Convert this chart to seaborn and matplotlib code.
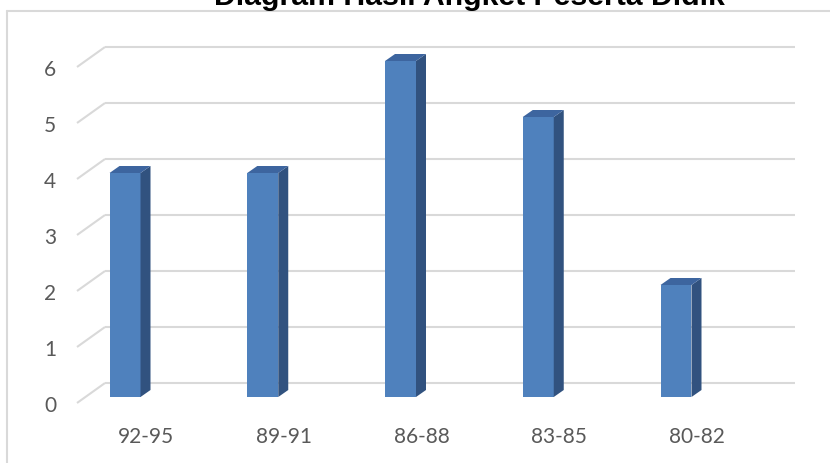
import matplotlib
matplotlib.use("Agg")
import matplotlib.pyplot as plt
import matplotlib.transforms as mtrans
from matplotlib.patches import Polygon
from matplotlib.lines import Line2D
import seaborn as sns

# Survey results: number of students per score range
categories = ["92-95", "89-91", "86-88", "83-85", "80-82"]
counts = [4, 4, 6, 5, 2]
y_ticks = [0, 1, 2, 3, 4, 5, 6]
title = "Diagram Hasil Angket Peserta Didik"

sns.set_theme(style="white")
plt.rcParams["font.family"] = ["Lato", "DejaVu Sans"]

W, H, DPI = 830, 463, 100
fig = plt.figure(figsize=(W / DPI, H / DPI), dpi=DPI)
fig.patch.set_facecolor("white")

# Axes frame in pixels (the plane in which the columns stand)
left_px, right_px = 77, 797
bottom_px, top_px = 397, 33
ax = fig.add_axes([left_px / W, (H - bottom_px) / H,
                   (right_px - left_px) / W, (bottom_px - top_px) / H])
ax.set_facecolor("none")

FRONT = "#4f81bd"
SIDE = "#31527f"
TOP = "#3d659f"
GRID = "#d9d9d9"
TEXT = "#595959"

sns.barplot(x=categories, y=counts, color=FRONT, saturation=1, width=0.225,
            linewidth=0, ax=ax, zorder=3)

ax.set_xlim(-0.3485, 4.8784)
ax.set_ylim(0, 6.5)

# pixel -> data unit conversions
fig.canvas.draw()
p0 = ax.transData.transform((0, 0))
px_x = ax.transData.transform((1, 0))[0] - p0[0]
px_y = ax.transData.transform((0, 1))[1] - p0[1]

def dx(px):
    return px / px_x

def dy(px):
    return px / px_y

# depth offsets (display pixels, y up)
front_off = (-8, -6)
back_off = (20, 14)
bar_depth = (10, 7)

floor_x0 = dx(85 - 125)
floor_x1 = dx(775 - 125)

# back-wall gridlines and the side-wall diagonals
for v in y_ticks:
    ax.plot([floor_x0 + dx(back_off[0]), floor_x1 + dx(back_off[0])],
            [v + dy(back_off[1])] * 2, color=GRID, lw=1.5,
            clip_on=False, zorder=0, solid_capstyle="butt")
    ax.plot([floor_x0 + dx(front_off[0]), floor_x0 + dx(back_off[0])],
            [v + dy(front_off[1]), v + dy(back_off[1])], color=GRID, lw=1.5,
            clip_on=False, zorder=0, solid_capstyle="butt")

# give the columns their side and top faces
bdx, bdy = dx(bar_depth[0]), dy(bar_depth[1])
for p in list(ax.patches):
    x, w, h = p.get_x(), p.get_width(), p.get_height()
    side = Polygon([(x + w, 0), (x + w, h), (x + w + bdx, h + bdy), (x + w + bdx, bdy)],
                   closed=True, facecolor=SIDE, edgecolor="none", zorder=3, clip_on=False)
    top = Polygon([(x, h), (x + w, h), (x + w + bdx, h + bdy), (x + bdx, h + bdy)],
                  closed=True, facecolor=TOP, edgecolor="none", zorder=3, clip_on=False)
    ax.add_patch(side)
    ax.add_patch(top)

# ticks
ax.set_yticks(y_ticks)
ax.set_yticklabels([str(t) for t in y_ticks])
ax.tick_params(axis="y", length=0, pad=15.1, labelsize=15, labelcolor=TEXT)
ax.tick_params(axis="x", length=0, pad=21.6, labelsize=15, labelcolor=TEXT)
ax.set_xlabel("")
ax.set_ylabel("")
for sp in ax.spines.values():
    sp.set_visible(False)

yoff = mtrans.ScaledTranslation(0, -7 / DPI, fig.dpi_scale_trans)
for lab in ax.get_yticklabels():
    lab.set_transform(lab.get_transform() + yoff)
xoff = mtrans.ScaledTranslation(21 / DPI, 0, fig.dpi_scale_trans)
for lab in ax.get_xticklabels():
    lab.set_transform(lab.get_transform() + xoff)

# chart frame
fig.add_artist(Line2D([7 / W, 7 / W], [0, (H - 11) / H], transform=fig.transFigure,
                      color=GRID, lw=1.5))
fig.add_artist(Line2D([7 / W, 1], [(H - 11) / H] * 2, transform=fig.transFigure,
                      color=GRID, lw=1.5))

fig.text(469.5 / W, (H - 5) / H, title, ha="center", va="baseline",
         fontsize=21.8, fontweight="bold", color="black",
         family=["Liberation Sans", "DejaVu Sans"])

fig.savefig("out.png", dpi=DPI, facecolor="white")
